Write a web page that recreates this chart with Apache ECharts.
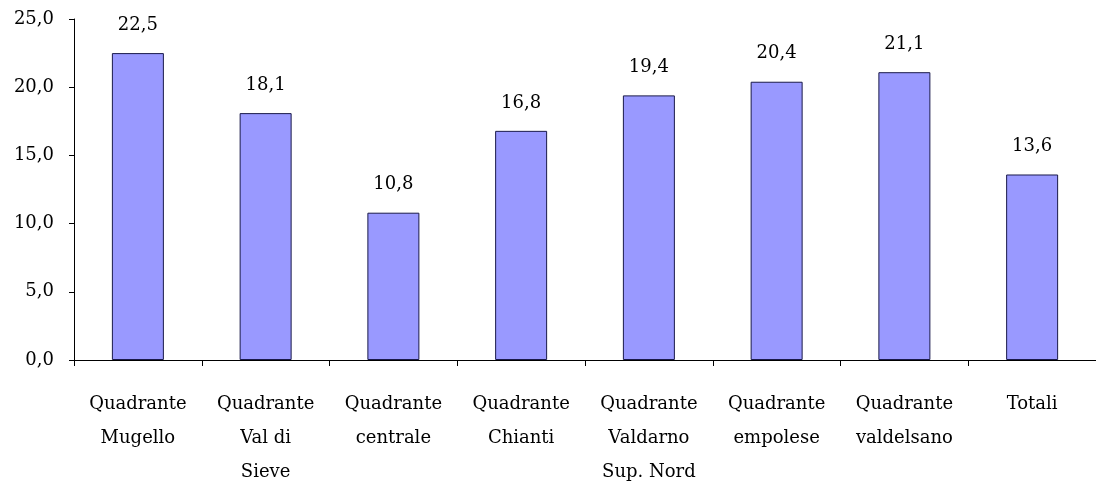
<!DOCTYPE html>
<html>
<head>
<meta charset="utf-8">
<script src="https://cdn.jsdelivr.net/npm/echarts@6/dist/echarts.min.js"></script>
<style>
  html, body { margin: 0; padding: 0; background: #fff; }
  #chart { width: 1096px; height: 493px; }
</style>
</head>
<body>
<div id="chart"></div>
<script>
const categories = [
  "Quadrante\nMugello",
  "Quadrante\nVal di\nSieve",
  "Quadrante\ncentrale",
  "Quadrante\nChianti",
  "Quadrante\nValdarno\nSup. Nord",
  "Quadrante\nempolese",
  "Quadrante\nvaldelsano",
  "Totali",
];
const values = [22.5, 18.1, 10.8, 16.8, 19.4, 20.4, 21.1, 13.6];
const yTicks = { min: 0, max: 25, interval: 5 };

const fmt = (v) => Number(v).toFixed(1).replace(".", ",");
const font = "DejaVu Serif";

const chart = echarts.init(document.getElementById("chart"));
chart.setOption({
  backgroundColor: "#fff",
  animation: false,
  grid: { left: 74, top: 19, width: 1026, bottom: 133 },
  xAxis: {
    type: "category",
    data: categories,
    axisLine: { lineStyle: { color: "#000", width: 1 } },
    axisTick: { show: true, length: 6, alignWithLabel: false, lineStyle: { color: "#000" } },
    axisLabel: {
      interval: 0,
      margin: 27,
      color: "#000",
      fontFamily: font,
      fontSize: 18,
      lineHeight: 34,
    },
  },
  yAxis: {
    type: "value",
    min: yTicks.min,
    max: yTicks.max,
    interval: yTicks.interval,
    splitLine: { show: false },
    axisLine: { show: true, lineStyle: { color: "#000", width: 1 } },
    axisTick: { show: true, length: 5, lineStyle: { color: "#000" } },
    axisLabel: {
      margin: 20,
      color: "#000",
      fontFamily: font,
      fontSize: 18,
      formatter: fmt,
    },
  },
  series: [
    {
      type: "bar",
      data: values,
      barWidth: 52,
      itemStyle: { color: "#9999FF", borderColor: "#1a1a4a", borderWidth: 1 },
      label: {
        show: true,
        position: "top",
        distance: 19,
        color: "#000",
        fontFamily: font,
        fontSize: 18,
        formatter: (p) => fmt(p.value),
      },
    },
  ],
});
</script>
</body>
</html>
